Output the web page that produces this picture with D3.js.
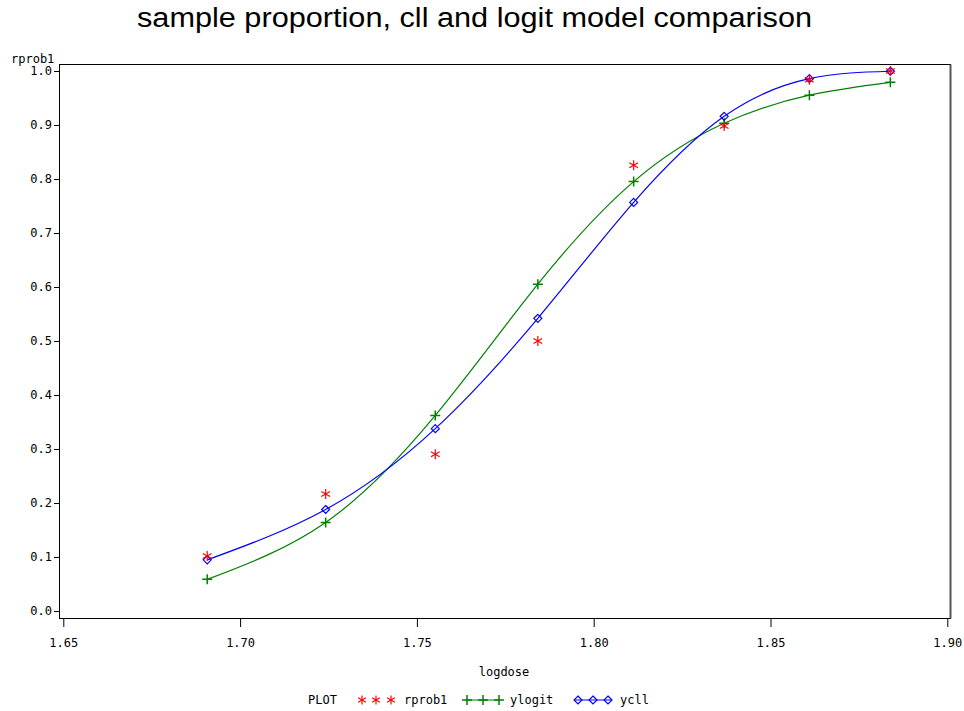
<!DOCTYPE html>
<html><head><meta charset="utf-8">
<script src="https://cdn.jsdelivr.net/npm/d3@7"></script>
<style>
body{margin:0;background:#fff;}
svg{display:block;}
.mono{font-family:"DejaVu Sans Mono","Liberation Mono",monospace;font-size:12px;fill:#000;}
</style></head>
<body><svg id="c" width="964" height="711"></svg>
<script>
const logdose = [1.6907, 1.7242, 1.7552, 1.7842, 1.8113, 1.8369, 1.8610, 1.8839];
const rprob1 = [0.1017, 0.2167, 0.2903, 0.5000, 0.8254, 0.8983, 0.9839, 1.0000];
const ylogit = [0.0586, 0.1640, 0.3621, 0.6053, 0.7952, 0.9032, 0.9552, 0.9790];
const ycll   = [0.0947, 0.1880, 0.3377, 0.5420, 0.7567, 0.9161, 0.9858, 0.9995];
const xTicks = [1.65, 1.70, 1.75, 1.80, 1.85, 1.90];
const yTicks = [0.0, 0.1, 0.2, 0.3, 0.4, 0.5, 0.6, 0.7, 0.8, 0.9, 1.0];
const titleText = "sample proportion, cll and logit model comparison";

const svg = d3.select("#c");
const x = d3.scaleLinear().domain([1.65, 1.90]).range([63.3, 947.3]);
const y = d3.scaleLinear().domain([0, 1]).range([611, 71]);

// title
svg.append("text").attr("x", 137).attr("y", 27)
  .attr("textLength", 675).attr("lengthAdjust", "spacingAndGlyphs")
  .style("font-family", "'Liberation Sans',Arial,sans-serif").style("font-size", "27px")
  .text(titleText);

// frame
svg.append("rect").attr("x", 59.5).attr("y", 64.5).attr("width", 891).attr("height", 554)
  .attr("fill", "none").attr("stroke", "#000").attr("stroke-width", 1);
svg.append("line").attr("x1", 950.5).attr("x2", 950.5).attr("y1", 64.5).attr("y2", 618.5)
  .attr("stroke", "#555").attr("stroke-width", 2);

// x axis
const xMinor = d3.range(0, 51).map(i => 1.65 + i * 0.005);
const xg = svg.append("g").attr("transform", "translate(0,619)");
xg.call(d3.axisBottom(x).tickValues(xMinor).tickSize(5).tickFormat(""))
  .call(g => g.select(".domain").remove());
xg.call(d3.axisBottom(x).tickValues(xTicks).tickSize(8).tickFormat(d3.format(".2f")))
  .call(g => g.selectAll(".domain").remove());
xg.selectAll("text").attr("class", "mono").attr("dy", null).attr("y", 28).style("font-size", "12px");
xg.selectAll("line").attr("stroke", "#000");

// y axis
const yMinor = d3.range(0, 51).map(i => i * 0.02);
const yg = svg.append("g").attr("transform", "translate(59,0)");
yg.call(d3.axisLeft(y).tickValues(yMinor).tickSize(3).tickFormat(""))
  .call(g => g.select(".domain").remove());
yg.call(d3.axisLeft(y).tickValues(yTicks).tickSize(5).tickFormat(d3.format(".1f")))
  .call(g => g.selectAll(".domain").remove());
yg.selectAll("text").attr("class", "mono").attr("x", -7).style("font-size", "12px");
yg.selectAll("line").attr("stroke", "#000");

// axis labels
svg.append("text").attr("class", "mono").attr("x", 11).attr("y", 63).text("rprob1");
svg.append("text").attr("class", "mono").attr("x", 504).attr("y", 676).attr("text-anchor", "middle").text("logdose");

// lines
const line = vals => d3.line().curve(d3.curveNatural)
  .x((d, i) => x(logdose[i])).y(d => y(d))(vals);
svg.append("path").attr("d", line(ylogit)).attr("fill", "none").attr("stroke", "#008000").attr("stroke-width", 1.2);
svg.append("path").attr("d", line(ycll)).attr("fill", "none").attr("stroke", "#0000ff").attr("stroke-width", 1.2);

// markers
function star(g, cx, cy, s, col) {
  g.append("g").attr("transform", `translate(${cx},${cy})`).selectAll("line")
    .data([0, 60, 120]).join("line")
    .attr("x1", 0).attr("y1", -s).attr("x2", 0).attr("y2", s)
    .attr("transform", a => `rotate(${a})`).attr("stroke", col).attr("stroke-width", 1.2);
}
function plus(g, cx, cy, s, col) {
  g.append("path").attr("d", `M${cx - s},${cy}H${cx + s}M${cx},${cy - s}V${cy + s}`)
    .attr("stroke", col).attr("stroke-width", 1.5).attr("fill", "none");
}
function diamond(g, cx, cy, s, col) {
  g.append("path").attr("d", `M${cx},${cy - s}L${cx + s},${cy}L${cx},${cy + s}L${cx - s},${cy}Z`)
    .attr("stroke", col).attr("stroke-width", 1.2).attr("fill", "none");
}
const mg = svg.append("g");
ylogit.forEach((v, i) => plus(mg, x(logdose[i]), y(v), 5, "#008000"));
ycll.forEach((v, i) => diamond(mg, x(logdose[i]), y(v), 4, "#0000ff"));
rprob1.forEach((v, i) => star(mg, x(logdose[i]), y(v), 5, "#ff0000"));

// legend
const lg = svg.append("g");
const ly = 700;
lg.append("text").attr("class", "mono").attr("x", 308).attr("y", ly + 4).text("PLOT");
[362, 376, 391].forEach(cx => star(lg, cx, ly, 4.5, "#ff0000"));
lg.append("text").attr("class", "mono").attr("x", 404).attr("y", ly + 4).text("rprob1");
lg.append("line").attr("x1", 466).attr("x2", 500).attr("y1", ly).attr("y2", ly).attr("stroke", "#008000").attr("stroke-width", 1.2);
[467, 483, 499].forEach(cx => plus(lg, cx, ly, 5, "#008000"));
lg.append("text").attr("class", "mono").attr("x", 510).attr("y", ly + 4).text("ylogit");
lg.append("line").attr("x1", 575).attr("x2", 611).attr("y1", ly).attr("y2", ly).attr("stroke", "#0000ff").attr("stroke-width", 1.2);
[578, 593, 608].forEach(cx => diamond(lg, cx, ly, 4, "#0000ff"));
lg.append("text").attr("class", "mono").attr("x", 620).attr("y", ly + 4).text("ycll");
</script></body></html>
